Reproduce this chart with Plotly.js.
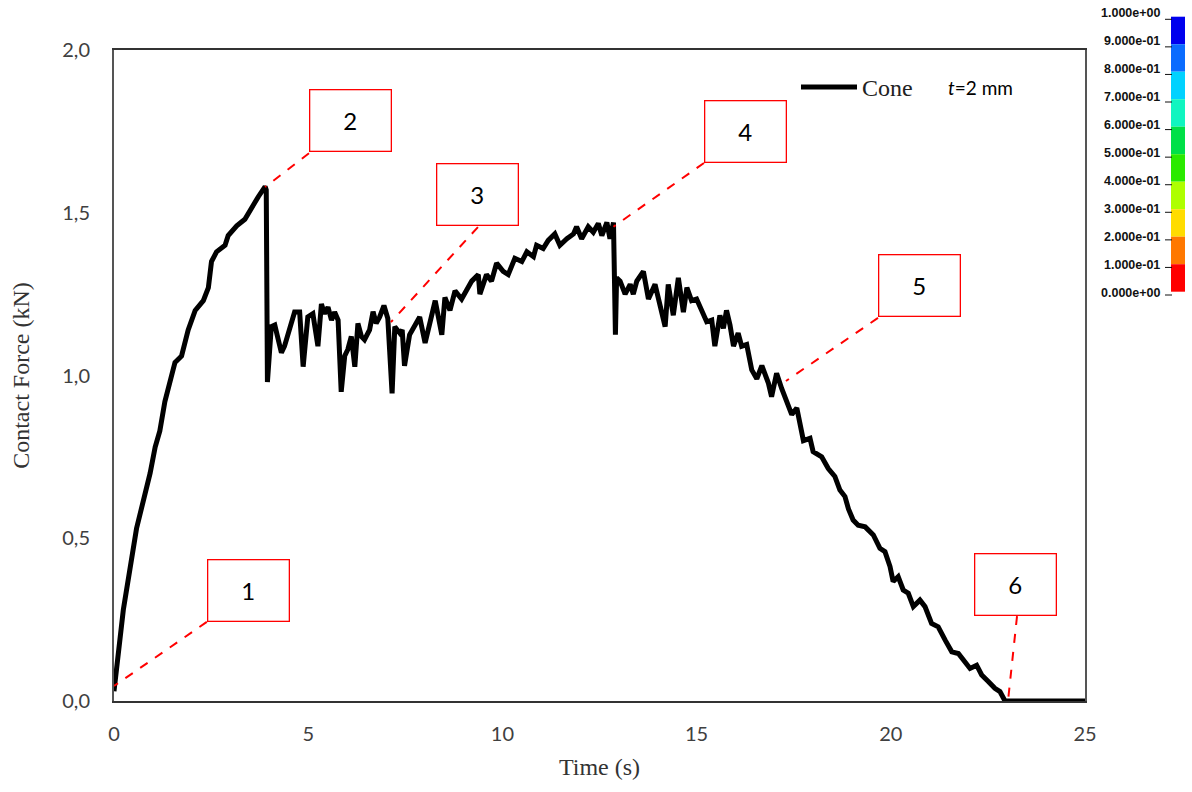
<!DOCTYPE html>
<html>
<head>
<meta charset="utf-8">
<script src="https://cdn.plot.ly/plotly-3.0.1.min.js"></script>
<style>html,body{margin:0;padding:0;background:#fff;}#chart{width:1192px;height:792px;}</style>
</head>
<body>
<div id="chart"></div>
<script>
// ---- data ----
const timeS = [0.00,0.24,0.58,0.75,0.93,1.06,1.18,1.31,1.44,1.57,1.74,1.91,2.09,2.30,2.43,2.51,2.64,2.86,2.94,3.16,3.37,3.55,3.72,3.89,3.92,3.95,
4.05,4.14,4.22,4.31,4.39,4.52,4.65,4.78,4.87,4.99,5.12,5.25,5.34,5.42,5.51,5.60,5.68,5.77,5.85,5.94,6.02,6.11,6.20,6.28,6.37,6.45,6.58,6.67,6.75,6.84,6.95,7.05,7.16,7.23,7.36,7.42,7.48,7.61,7.74,7.87,
8.01,8.14,8.27,8.44,8.52,8.65,8.78,8.95,9.08,9.21,9.38,9.42,9.59,9.72,9.85,10.02,10.15,10.32,10.50,10.63,10.80,10.88,11.05,11.18,11.35,11.48,11.66,11.83,11.91,12.04,12.21,12.34,12.47,12.56,12.69,12.77,12.86,12.91,
12.94,13.03,13.16,13.29,13.37,13.46,13.63,13.76,13.93,14.06,14.19,14.27,14.40,14.53,14.66,14.75,14.87,15.00,15.13,15.26,15.39,15.47,15.60,15.69,15.77,15.86,15.95,16.07,16.16,16.29,16.42,16.55,16.68,16.85,16.93,17.06,17.19,17.32,17.45,17.58,
17.75,17.92,18.00,18.22,18.39,18.56,18.69,18.82,18.91,19.03,19.16,19.34,19.55,19.72,19.85,19.98,20.06,20.19,20.32,20.45,20.58,20.75,20.88,21.05,21.22,21.40,21.57,21.74,21.91,22.04,22.21,22.34,22.51,22.68,22.81,22.94,23.50,24.00,24.50,25.00];
const forceKN = [0.03,0.28,0.53,0.61,0.70,0.78,0.83,0.92,0.98,1.04,1.06,1.14,1.20,1.23,1.27,1.35,1.38,1.40,1.43,1.46,1.48,1.52,1.55,1.58,1.57,0.98,
1.15,1.155,1.115,1.07,1.09,1.15,1.195,1.195,1.027,1.18,1.19,1.09,1.22,1.19,1.21,1.17,1.195,1.17,0.95,1.06,1.08,1.12,1.027,1.16,1.12,1.11,1.14,1.196,1.16,1.18,1.215,1.175,0.945,1.15,1.13,1.14,1.03,1.125,1.15,1.18,
1.10,1.17,1.23,1.125,1.24,1.20,1.26,1.235,1.26,1.29,1.31,1.25,1.31,1.29,1.345,1.32,1.31,1.36,1.35,1.38,1.365,1.40,1.39,1.415,1.435,1.40,1.42,1.435,1.457,1.42,1.457,1.44,1.467,1.43,1.47,1.42,1.47,1.125,
1.30,1.29,1.25,1.28,1.25,1.29,1.32,1.235,1.28,1.21,1.15,1.28,1.185,1.30,1.195,1.27,1.23,1.235,1.20,1.165,1.17,1.09,1.185,1.145,1.20,1.155,1.09,1.13,1.09,1.095,1.017,0.99,1.03,0.976,0.935,1.007,0.96,0.915,0.88,0.90,
0.80,0.807,0.766,0.75,0.714,0.69,0.648,0.628,0.59,0.556,0.54,0.535,0.51,0.469,0.459,0.413,0.367,0.382,0.341,0.331,0.29,0.31,0.29,0.238,0.228,0.187,0.151,0.146,0.121,0.10,0.11,0.08,0.06,0.039,0.029,0.0,0.0,0.0,0.0,0.0];

const seriesName = 'Cone';
const thicknessNote = '<i>t</i>=2 mm';
const xTickVals = [0,5,10,15,20,25];
const yTickVals = [0,0.5,1.0,1.5,2.0];

// numbered callouts: box centre and leader line (from box edge to curve)
const calloutLabels = ['1','2','3','4','5','6'];
const boxT = [3.45,6.08,9.35,16.25,20.73,23.22];
const boxF = [0.341,1.782,1.555,1.751,1.275,0.359];
const leadFromT = [2.39,5.02,9.37,15.19,19.67,23.25];
const leadFromF = [0.243,1.683,1.456,1.653,1.177,0.261];
const leadToT = [0.0,3.89,7.13,12.86,17.30,23.02];
const leadToF = [0.046,1.579,1.164,1.457,0.983,0.003];

// colour scale at the right
const cbLevels = [1.0,0.9,0.8,0.7,0.6,0.5,0.4,0.3,0.2,0.1,0.0];
const cbLabels = ['1.000e+00','9.000e-01','8.000e-01','7.000e-01','6.000e-01','5.000e-01','4.000e-01','3.000e-01','2.000e-01','1.000e-01','0.000e+00'];
const cbColors = ['#0000EE','#0A6CFF','#00D2FF','#10F5C0','#00E048','#2BEA00','#AEFF00','#FFDC00','#FF7800','#FF0000']; // top -> bottom

// ---- layout geometry ----
const W = 1192, H = 792, ML = 114, MR = 107, MT = 50, MB = 91;
const PW = W - ML - MR, PH = H - MT - MB;
const px2x = px => (px - ML) / PW;
const py2y = py => (H - MB - py) / PH;

const shapes = [];
const annotations = [];

for (let i = 0; i < calloutLabels.length; i++) {
  shapes.push({type:'line', xref:'x', yref:'y', x0:leadFromT[i], y0:leadFromF[i], x1:leadToT[i], y1:leadToF[i],
    line:{color:'#FF0000', width:2, dash:'dash'}, layer:'above'});
  annotations.push({xref:'x', yref:'y', x:boxT[i], y:boxF[i], text:calloutLabels[i], showarrow:false,
    font:{family:'Lato, "Open Sans", sans-serif', size:24, color:'#000'},
    bgcolor:'#fff', bordercolor:'#FF0000', borderwidth:1.3, width:80, height:60, borderpad:0, align:'center', valign:'middle'});
}

// colour bar
const cbTop = 16.7, cbBot = 291.7, cbX0 = 1171, cbX1 = 1185;
for (let k = 0; k < cbColors.length; k++) {
  const yA = cbTop + (cbBot - cbTop) * (1 - cbLevels[k]);
  const yB = cbTop + (cbBot - cbTop) * (1 - cbLevels[k + 1]);
  shapes.push({type:'rect', xref:'paper', yref:'paper', x0:px2x(cbX0), x1:px2x(cbX1), y0:py2y(yB), y1:py2y(yA),
    fillcolor:cbColors[k], line:{width:0}, layer:'above'});
}
for (let k = 0; k < cbLevels.length; k++) {
  const ly = 12.7 + (292.7 - 12.7) * (1 - cbLevels[k]);
  const ty = 19.3 + (295.0 - 19.3) * (1 - cbLevels[k]);
  annotations.push({xref:'paper', yref:'paper', x:px2x(1162), y:py2y(ly), xanchor:'right', yanchor:'middle',
    text:'<b>' + cbLabels[k] + '</b>', showarrow:false, font:{family:'"Liberation Sans", Arial, sans-serif', size:12.5, color:'#111'}});
  shapes.push({type:'line', xref:'paper', yref:'paper', x0:px2x(1165), x1:px2x(1172), y0:py2y(ty), y1:py2y(ty),
    line:{color:'#111', width:1}, layer:'above'});
}

annotations.push({xref:'paper', yref:'paper', x:px2x(946), y:py2y(87), xanchor:'left', yanchor:'middle',
  text:thicknessNote, showarrow:false, font:{family:'Lato, "Open Sans", sans-serif', size:19, color:'#000'}});

const trace = {
  x: timeS, y: forceKN, type:'scatter', mode:'lines', name:seriesName,
  line:{color:'#000', width:5}, cliponaxis:false
};

const layout = {
  width:W, height:H,
  margin:{l:ML, r:MR, t:MT, b:MB, pad:0},
  paper_bgcolor:'#fff', plot_bgcolor:'#fff',
  separators:',.',
  showlegend:true,
  legend:{x:px2x(796), y:py2y(65), xanchor:'left', yanchor:'top', bgcolor:'rgba(0,0,0,0)',
    font:{family:'"Liberation Serif", "Times New Roman", serif', size:24, color:'#222'}, itemwidth:56},
  xaxis:{range:[0,25], tickvals:xTickVals, tickformat:'d', showgrid:false, zeroline:false,
    showline:true, linecolor:'#333', linewidth:2, mirror:true, ticks:'', ticklabelstandoff:14,
    tickfont:{family:'Lato, "Open Sans", sans-serif', size:20, color:'#404040'},
    title:{text:'Time (s)', standoff:14, font:{family:'"Liberation Serif", "Times New Roman", serif', size:24, color:'#333'}},
    automargin:false, fixedrange:true},
  yaxis:{range:[0,2], tickvals:yTickVals, tickformat:'.1f', showgrid:false, zeroline:false,
    showline:true, linecolor:'#555', linewidth:2, mirror:true, ticks:'', ticklabelstandoff:18,
    tickfont:{family:'Lato, "Open Sans", sans-serif', size:20, color:'#404040'},
    title:{text:'Contact Force (kN)', standoff:26, font:{family:'"Liberation Serif", "Times New Roman", serif', size:24, color:'#333'}},
    automargin:false, fixedrange:true},
  shapes:shapes,
  annotations:annotations
};

Plotly.newPlot('chart', [trace], layout, {displayModeBar:false, staticPlot:true});
</script>
</body>
</html>
